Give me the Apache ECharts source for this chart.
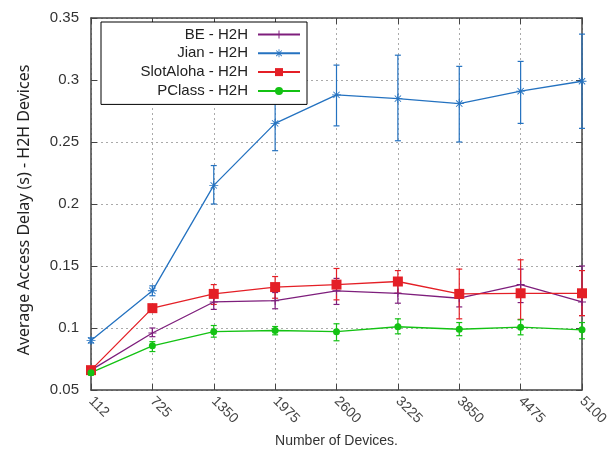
<!DOCTYPE html>
<html>
<head>
<meta charset="utf-8">
<script src="https://cdn.jsdelivr.net/npm/echarts@6/dist/echarts.min.js"></script>
<style>html,body{margin:0;padding:0;background:#fff}#c{width:612px;height:450px}</style>
</head>
<body>
<div id="c"></div>
<script>
const categories = ['112','725','1350','1975','2600','3225','3850','4475','5100'];
const seriesNames = ['BE - H2H','Jian - H2H','SlotAloha - H2H','PClass - H2H'];

const beMean  = [0.066, 0.096, 0.121, 0.122, 0.130, 0.128, 0.124, 0.135, 0.121];
const beLow   = [0.064, 0.093, 0.115, 0.1155, 0.119, 0.120, 0.117, 0.1205, 0.110];
const beHigh  = [0.068, 0.100, 0.126, 0.1286, 0.140, 0.138, 0.131, 0.1475, 0.150];

const jianMean = [0.090, 0.130, 0.215, 0.265, 0.288, 0.285, 0.281, 0.291, 0.299];
const jianLow  = [0.088, 0.126, 0.200, 0.243, 0.263, 0.251, 0.250, 0.265, 0.261];
const jianHigh = [0.092, 0.134, 0.231, 0.286, 0.312, 0.320, 0.311, 0.315, 0.337];

const slotMean = [0.066, 0.116, 0.1275, 0.133, 0.135, 0.1375, 0.1275, 0.128, 0.128];
const slotLow  = [0.064, 0.114, 0.119, 0.124, 0.1227, 0.128, 0.1074, 0.107, 0.110];
const slotHigh = [0.068, 0.118, 0.135, 0.1415, 0.148, 0.1463, 0.1475, 0.155, 0.1463];

const pcMean = [0.064, 0.0856, 0.097, 0.098, 0.097, 0.101, 0.099, 0.1007, 0.0985];
const pcLow  = [0.062, 0.081, 0.0926, 0.0945, 0.0897, 0.0953, 0.0938, 0.0945, 0.0913];
const pcHigh = [0.066, 0.089, 0.102, 0.1012, 0.1034, 0.1074, 0.1044, 0.1066, 0.1044];

const yTicks = {min: 0.05, max: 0.35, interval: 0.05};

const colors = ['#7e1e7c', '#2472c0', '#e41f26', '#13c213'];

const plusSym = 'path://M-0.12,-1L0.12,-1L0.12,-0.12L1,-0.12L1,0.12L0.12,0.12L0.12,1L-0.12,1L-0.12,0.12L-1,0.12L-1,-0.12L-0.12,-0.12Z';
const starSym = 'path://M-0.1,-1L0.1,-1L0.1,1L-0.1,1Z M-1,-0.1L1,-0.1L1,0.1L-1,0.1Z M-0.63,-0.77L0.77,0.63L0.63,0.77L-0.77,-0.63Z M-0.77,0.63L0.63,-0.77L0.77,-0.63L-0.63,0.77Z';

function errData(low, high) {
  return categories.map((c, i) => [i, low[i], high[i]]);
}
function errSeries(name, low, high, color) {
  return {
    type: 'custom',
    name: name,
    xAxisIndex: 0, yAxisIndex: 0,
    data: errData(low, high),
    z: 2,
    silent: true,
    renderItem: function (params, api) {
      const x = api.value(0);
      const lo = api.coord([x, api.value(1)]);
      const hi = api.coord([x, api.value(2)]);
      const w = 3;
      const st = {stroke: color, lineWidth: 1.2};
      return {
        type: 'group',
        children: [
          {type: 'line', shape: {x1: lo[0], y1: lo[1], x2: hi[0], y2: hi[1]}, style: st},
          {type: 'line', shape: {x1: lo[0]-w, y1: lo[1], x2: lo[0]+w, y2: lo[1]}, style: st},
          {type: 'line', shape: {x1: hi[0]-w, y1: hi[1], x2: hi[0]+w, y2: hi[1]}, style: st}
        ]
      };
    }
  };
}
function lineSeries(name, data, color, symbol, size) {
  return {
    type: 'line', name: name, data: data,
    symbol: symbol, symbolSize: size, showSymbol: true,
    itemStyle: {color: color},
    lineStyle: {color: color, width: 1.3},
    z: 3, animation: false
  };
}

const chart = echarts.init(document.getElementById('c'), null, {renderer: 'canvas'});
const axisColor = '#444';
chart.setOption({
  animation: false,
  backgroundColor: '#fff',
  grid: {left: 91, right: 30, top: 18, bottom: 60, containLabel: false, outerBoundsMode: 'none'},
  legend: {
    data: seriesNames,
    orient: 'vertical',
    left: 101, top: 22,
    align: 'right',
    itemWidth: 42, itemHeight: 10, itemGap: 3.8,
    padding: [5, 6, 6, 7],
    borderColor: '#000', borderWidth: 1,
    backgroundColor: '#fff',
    formatter: name => '{t|' + name + '}',
    textStyle: {
      rich: {t: {fontFamily: 'Liberation Sans', fontSize: 15, color: '#222', width: 140, align: 'right',
        lineHeight: 15, padding: [0, 5, 0, 0]}}
    }
  },
  xAxis: [{
    type: 'category', data: categories, boundaryGap: false,
    name: 'Number of Devices.', nameLocation: 'middle', nameGap: 44,
    nameTextStyle: {fontFamily: 'Liberation Sans', fontSize: 14, color: '#333'},
    axisLine: {lineStyle: {color: axisColor, width: 1.5}},
    axisTick: {inside: true, length: 6, lineStyle: {color: axisColor}},
    axisLabel: {rotate: -45, fontFamily: 'Liberation Sans', fontSize: 14, color: '#444', margin: 9},
    splitLine: {show: true, lineStyle: {color: '#aaa', type: [2, 3], width: 1}}
  }, {
    type: 'category', data: categories, boundaryGap: false, position: 'top',
    axisLine: {lineStyle: {color: axisColor, width: 1.5}},
    axisTick: {inside: true, length: 6, lineStyle: {color: axisColor}},
    axisLabel: {show: false}, splitLine: {show: false}
  }],
  yAxis: [{
    type: 'value', min: yTicks.min, max: yTicks.max, interval: yTicks.interval,
    name: 'Average Access Delay (s) - H2H Devices', nameLocation: 'middle', nameGap: 59,
    nameTextStyle: {fontFamily: 'Noto Sans', fontSize: 16, color: '#222', padding: [0, 12, 0, 0]},
    axisLine: {show: true, lineStyle: {color: axisColor, width: 1.5}},
    axisTick: {show: true, inside: true, length: 6, lineStyle: {color: axisColor}},
    axisLabel: {fontFamily: 'Liberation Sans', fontSize: 15, color: '#333', margin: 12,
      formatter: v => String(+v.toFixed(2))},
    splitLine: {show: true, lineStyle: {color: '#aaa', type: [2, 3], width: 1}}
  }, {
    type: 'value', min: yTicks.min, max: yTicks.max, interval: yTicks.interval, position: 'right',
    axisLine: {show: true, lineStyle: {color: axisColor, width: 1.5}},
    axisTick: {show: true, inside: true, length: 6, lineStyle: {color: axisColor}},
    axisLabel: {show: false}, splitLine: {show: false}
  }],
  series: [
    errSeries('BE err', beLow, beHigh, colors[0]),
    errSeries('Jian err', jianLow, jianHigh, colors[1]),
    errSeries('SlotAloha err', slotLow, slotHigh, colors[2]),
    errSeries('PClass err', pcLow, pcHigh, colors[3]),
    lineSeries(seriesNames[0], beMean, colors[0], plusSym, 8),
    lineSeries(seriesNames[1], jianMean, colors[1], starSym, 9),
    lineSeries(seriesNames[2], slotMean, colors[2], 'rect', 10),
    lineSeries(seriesNames[3], pcMean, colors[3], 'circle', 7)
  ]
});
</script>
</body>
</html>
